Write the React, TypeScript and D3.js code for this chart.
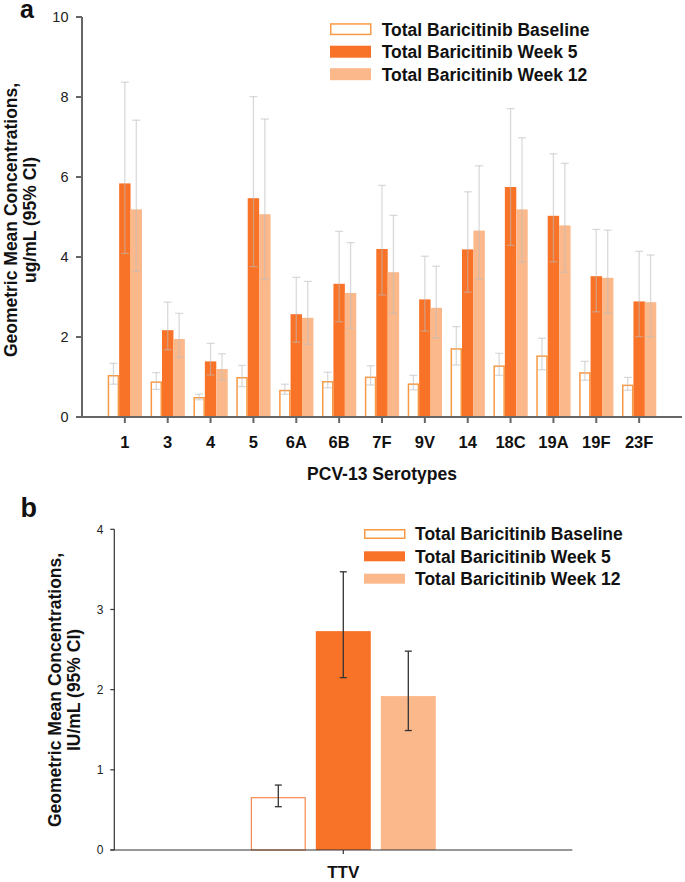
import React from "react";
import * as d3 from "d3";

const serotypes = ["1", "3", "4", "5", "6A", "6B", "7F", "9V", "14", "18C", "19A", "19F", "23F"];
const seriesNames = ["Total Baricitinib Baseline", "Total Baricitinib Week 5", "Total Baricitinib Week 12"];

const baselineGMC = [1.05, 0.89, 0.5, 1.0, 0.68, 0.9, 1.01, 0.84, 1.72, 1.29, 1.54, 1.12, 0.81];
const baselineLo = [0.82, 0.69, 0.43, 0.76, 0.57, 0.73, 0.8, 0.68, 1.3, 1.04, 1.18, 0.92, 0.67];
const baselineHi = [1.34, 1.11, 0.57, 1.29, 0.82, 1.12, 1.28, 1.04, 2.26, 1.59, 1.97, 1.39, 0.99];
const week5GMC = [5.84, 2.17, 1.39, 5.47, 2.57, 3.33, 4.2, 2.94, 4.19, 5.75, 5.03, 3.52, 2.89];
const week5Lo = [4.09, 1.68, 1.05, 3.76, 1.87, 2.38, 3.05, 2.15, 3.12, 4.29, 3.88, 2.63, 2.01];
const week5Hi = [8.37, 2.87, 1.84, 8.01, 3.49, 4.64, 5.79, 4.02, 5.63, 7.71, 6.58, 4.69, 4.14];
const week12GMC = [5.19, 1.95, 1.2, 5.07, 2.48, 3.1, 3.62, 2.73, 4.66, 5.19, 4.79, 3.48, 2.87];
const week12Lo = [3.64, 1.49, 0.93, 3.44, 1.82, 2.22, 2.59, 1.98, 3.45, 3.87, 3.62, 2.59, 2.01];
const week12Hi = [7.42, 2.59, 1.58, 7.45, 3.39, 4.36, 5.04, 3.77, 6.28, 6.98, 6.34, 4.67, 4.05];
const yTicksA = [0, 2, 4, 6, 8, 10];

const ttvCategories = ["TTV"];
const ttvGMC = [0.66, 2.73, 1.92];
const ttvLo = [0.54, 2.15, 1.49];
const ttvHi = [0.81, 3.47, 2.48];
const yTicksB = [0, 1, 2, 3, 4];

const FONT = "'Liberation Sans', Arial, Helvetica, sans-serif";
const C_BASE = "#F89A45";
const C_W5 = "#F87328";
const C_W12 = "#FBB98B";

export default function App() {
  // Panel a
  const xA = d3.scaleLinear().domain([0, serotypes.length + 1]).range([82, 682]);
  const yA = d3.scaleLinear().domain([0, 10]).range([417, 17]);
  const stepA = xA(1) - xA(0);
  const bandA = d3.scaleBand<string>().domain(seriesNames).range([-0.4 * stepA, 0.4 * stepA]).paddingInner(0);
  const seriesA = [
    { name: seriesNames[0], v: baselineGMC, lo: baselineLo, hi: baselineHi },
    { name: seriesNames[1], v: week5GMC, lo: week5Lo, hi: week5Hi },
    { name: seriesNames[2], v: week12GMC, lo: week12Lo, hi: week12Hi },
  ];

  // Panel b
  const xB = d3.scaleLinear().domain([0, 2]).range([114.3, 572.3]);
  const yB = d3.scaleLinear().domain([0, 4]).range([850, 529.3]);
  const bandB = d3.scaleBand<string>().domain(seriesNames).range([-92.5, 92.5]).paddingInner(10 / 65);

  const bw = bandA.bandwidth();

  const legend = (x0: number, tx: number, ys: number[], h: number) =>
    seriesNames.map((n, i) => (
      <g key={n}>
        {i === 0 ? (
          <rect x={x0 + 0.75} y={ys[i] - h / 2 + 0.75} width={40} height={h - 1.5} fill="#fff" stroke={C_BASE} strokeWidth={1.5} />
        ) : (
          <rect x={x0} y={ys[i] - h / 2} width={41} height={h} fill={i === 1 ? C_W5 : C_W12} />
        )}
        <text x={tx} y={ys[i] + 6.3} fontSize={17.5} fontWeight="bold" fill="#111">{n}</text>
      </g>
    ));

  return (
    <div style={{ position: "absolute", left: 0, top: 0 }}>
      <svg width={685} height={882} style={{ display: "block", fontFamily: FONT }}>
        <rect width={685} height={882} fill="#fff" />

        {/* ===== Panel a ===== */}
        <text x={20} y={18} fontSize={25} fontWeight="bold" fill="#111">a</text>

        {/* bars */}
        {seriesA.map((s, si) =>
          s.v.map((v, i) => {
            const cx = xA(i + 1);
            const x = cx + (bandA(s.name) as number);
            if (si === 0) {
              return (
                <rect key={`a${si}-${i}`} x={x + 0.75} y={yA(v) + 0.75} width={bw - 1.5} height={yA(0) - yA(v) - 0.75}
                  fill="#fff" stroke={C_BASE} strokeWidth={1.5} />
              );
            }
            return <rect key={`a${si}-${i}`} x={x} y={yA(v)} width={bw} height={yA(0) - yA(v)} fill={si === 1 ? C_W5 : C_W12} />;
          })
        )}
        {/* error bars */}
        {seriesA.map((s, si) =>
          s.v.map((v, i) => {
            const cx = xA(i + 1) + (bandA(s.name) as number) + bw / 2;
            return (
              <g key={`ea${si}-${i}`} stroke="#bbb" strokeOpacity={0.55} strokeWidth={1.3} fill="none">
                <line x1={cx} x2={cx} y1={yA(s.hi[i])} y2={yA(s.lo[i])} />
                <line x1={cx - 4} x2={cx + 4} y1={yA(s.hi[i])} y2={yA(s.hi[i])} />
                <line x1={cx - 4} x2={cx + 4} y1={yA(s.lo[i])} y2={yA(s.lo[i])} />
              </g>
            );
          })
        )}

        {/* axes a */}
        <line x1={xA(0)} x2={xA(0)} y1={yA(10)} y2={yA(0)} stroke="#666" strokeWidth={2} />
        <line x1={xA(0) - 6} x2={xA(serotypes.length + 1)} y1={yA(0)} y2={yA(0)} stroke="#666" strokeWidth={2} />
        {yTicksA.map((t) => (
          <g key={`ta${t}`}>
            <line x1={xA(0) - 6} x2={xA(0)} y1={yA(t)} y2={yA(t)} stroke="#666" strokeWidth={2} />
            <text x={68.5} y={yA(t) + 5.2} fontSize={14.5} textAnchor="end" fill="#222">{t}</text>
          </g>
        ))}
        {serotypes.map((s, i) => (
          <g key={`xa${s}`}>
            <line x1={xA(i + 1)} x2={xA(i + 1)} y1={yA(0)} y2={yA(0) + 6} stroke="#666" strokeWidth={2} />
            <text x={xA(i + 1)} y={448.3} fontSize={16.5} fontWeight="bold" textAnchor="middle" fill="#111">{s}</text>
          </g>
        ))}
        <text x={(xA(0) + xA(14)) / 2} y={480} fontSize={17.5} fontWeight="bold" textAnchor="middle" fill="#111">PCV-13 Serotypes</text>
        <g transform="translate(0,220) rotate(-90)" fontSize={17.5} fontWeight="bold" fill="#111" textAnchor="middle">
          <text x={0} y={16.5}>Geometric Mean Concentrations,</text>
          <text x={0} y={36}>ug/mL (95% CI)</text>
        </g>
        {legend(330, 381.7, [29.2, 51.7, 74.2], 12)}

        {/* ===== Panel b ===== */}
        <text x={20.5} y={516.7} fontSize={27} fontWeight="bold" fill="#111">b</text>

        {ttvGMC.map((v, si) => {
          const x = xB(1) + (bandB(seriesNames[si]) as number);
          const w = bandB.bandwidth();
          if (si === 0) {
            return <rect key={`b${si}`} x={x + 0.6} y={yB(v) + 0.6} width={w - 1.2} height={yB(0) - yB(v) - 0.6} fill="#fff" stroke="#F58A4E" strokeWidth={1.2} />;
          }
          return <rect key={`b${si}`} x={x} y={yB(v)} width={w} height={yB(0) - yB(v)} fill={si === 1 ? C_W5 : C_W12} />;
        })}
        {ttvGMC.map((v, si) => {
          const cx = xB(1) + (bandB(seriesNames[si]) as number) + bandB.bandwidth() / 2;
          return (
            <g key={`eb${si}`} stroke="#333" strokeWidth={1.3} fill="none">
              <line x1={cx} x2={cx} y1={yB(ttvHi[si])} y2={yB(ttvLo[si])} />
              <line x1={cx - 3.5} x2={cx + 3.5} y1={yB(ttvHi[si])} y2={yB(ttvHi[si])} />
              <line x1={cx - 3.5} x2={cx + 3.5} y1={yB(ttvLo[si])} y2={yB(ttvLo[si])} />
            </g>
          );
        })}

        <line x1={xB(0)} x2={xB(0)} y1={yB(4)} y2={yB(0)} stroke="#333" strokeWidth={1.2} />
        <line x1={xB(0) - 4} x2={xB(2)} y1={yB(0)} y2={yB(0)} stroke="#333" strokeWidth={1.2} />
        {yTicksB.map((t) => (
          <g key={`tb${t}`}>
            <line x1={xB(0) - 4} x2={xB(0)} y1={yB(t)} y2={yB(t)} stroke="#333" strokeWidth={1.2} />
            <text x={103.5} y={yB(t) + 4.3} fontSize={12} textAnchor="end" fill="#222">{t}</text>
          </g>
        ))}
        {ttvCategories.map((c, i) => (
          <g key={`xb${c}`}>
            <line x1={xB(i + 1)} x2={xB(i + 1)} y1={yB(0)} y2={yB(0) + 4} stroke="#333" strokeWidth={1.2} />
            <text x={xB(i + 1)} y={878} fontSize={17} fontWeight="bold" textAnchor="middle" fill="#111">{c}</text>
          </g>
        ))}
        <g transform="translate(0,690) rotate(-90)" fontSize={17.5} fontWeight="bold" fill="#111" textAnchor="middle">
          <text x={0} y={61}>Geometric Mean Concentrations,</text>
          <text x={0} y={80}>IU/mL (95% CI)</text>
        </g>
        {legend(364, 415, [534, 556.3, 578.7], 10)}
      </svg>
    </div>
  );
}
